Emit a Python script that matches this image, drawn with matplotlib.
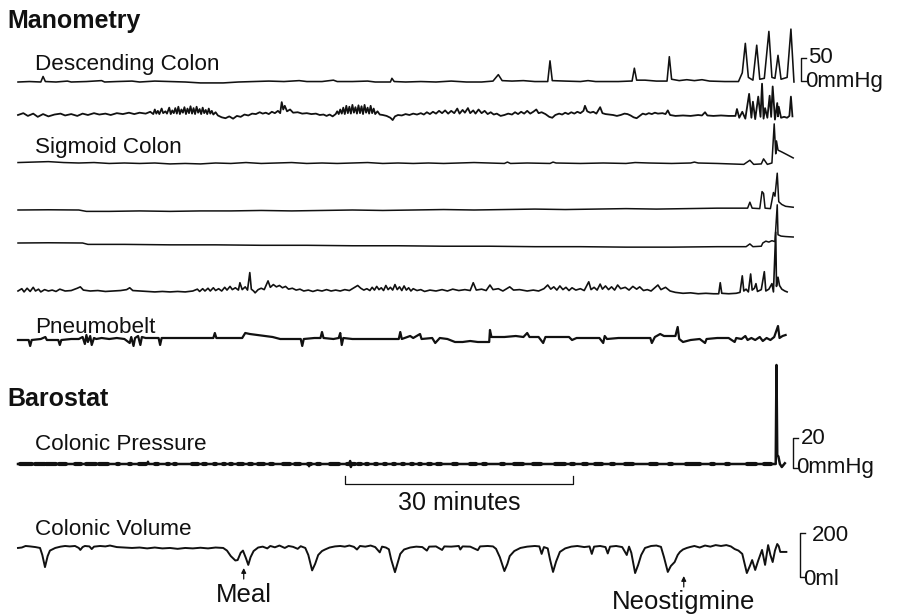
import matplotlib.pyplot as plt
import numpy as np

plt.rcParams["font.family"] = ["Liberation Sans", "DejaVu Sans"]

# All traces: (minutes from start of recording, value in the trace's own unit)
# manometry channels in mmHg
DESC_1 = [(0, 0), (1.5, 1), (3.0, 0), (3.3, 12), (3.6, 1), (5, 0), (6.5, 2), (7, 0), (9, 1),
          (11, 3), (11.4, 0), (13, 1), (15, 2), (16, 0), (18, 2), (20, 1), (22, 0), (24, -2),
          (27, -2), (29, 0), (31, 1), (33, 2), (35, 1), (37, 3), (38, 1), (40, 1), (41.5, 4),
          (42, 1), (44, 1), (46, 2), (47, 0), (49, 0), (49.2, 8), (49.5, 1), (51, 0), (53, 1),
          (55, 0), (57, 2), (59, 0), (61, 0), (62.5, 2), (63.2, 16), (63.7, 3), (65, 2),
          (66.5, 3), (68, 1), (69.7, 1), (70, 46), (70.3, 3), (72, 2), (74, 1), (75, 3), (76, 1),
          (79, 1), (80.5, 2), (80.8, 2), (81.1, 30), (81.4, 4), (82.5, 4), (84, 2), (85.4, 2),
          (85.7, 55), (86.0, 6), (87, 3), (88, 5), (89, 3), (90, 5), (91, 2), (93, 1), (94.8, 1),
          (95.3, 20), (95.7, 84), (96.1, 10), (96.7, 4), (97.2, 80), (97.6, 6), (98.2, 8),
          (98.8, 110), (99.2, 10), (99.6, 8), (100.0, 58), (100.4, 6), (101.2, 10), (101.7, 115),
          (102.1, 0)]

DESC_2 = [(0, 0), (0.7, 4), (1.3, -2), (2.0, 3), (2.6, -4), (3.3, 2), (4.0, -3), (4.8, 1),
          (5.6, 3), (6.2, -1), (7.0, 2), (7.8, -2), (8.5, 3), (9.2, 0), (10.0, 4), (10.7, 1),
          (11.5, 3), (12.2, 0), (13.0, 4), (13.8, 2), (14.6, 5), (15.3, 2), (16.0, 5), (16.8, 3),
          (17.4, 7), (17.8, 2), (18.0, 12), (18.2, 3), (18.4, 9), (18.6, 2), (18.9, 14), (19.1, 4),
          (19.4, 8), (19.6, 3), (19.9, 16), (20.1, 2), (20.3, 10), (20.5, 4), (20.7, 15),
          (20.9, 3), (21.1, 18), (21.3, 2), (21.5, 12), (21.7, 5), (21.9, 17), (22.1, 2),
          (22.3, 14), (22.5, 4), (22.7, 19), (22.9, 3), (23.1, 15), (23.3, 2), (23.5, 18),
          (23.7, 5), (23.9, 13), (24.1, 2), (24.3, 16), (24.5, 4), (24.7, 11), (24.9, 2),
          (25.1, 14), (25.3, 3), (25.5, 9), (25.7, 1), (26.0, 6), (26.3, -1), (26.8, -5),
          (27.3, -7), (27.8, -3), (28.3, -8), (28.8, -2), (29.3, -4), (29.8, 1), (30.3, -1),
          (30.8, 3), (31.3, 2), (31.8, 6), (32.2, 3), (32.6, 5), (33.0, 2), (33.4, 7), (33.8, 4),
          (34.2, 9), (34.5, 4), (34.7, 28), (34.9, 12), (35.1, 20), (35.4, 8), (35.8, 12),
          (36.2, 5), (36.8, 6), (37.4, 3), (38.0, 4), (38.6, 2), (39.2, 3), (39.7, 0), (40.2, 1),
          (40.6, -2), (41.0, 1), (41.4, -3), (41.8, 2), (42.0, 8), (42.2, 2), (42.4, 12),
          (42.6, 3), (42.8, 16), (43.0, 2), (43.2, 20), (43.4, 4), (43.6, 18), (43.8, 3),
          (44.0, 22), (44.2, 5), (44.4, 17), (44.6, 3), (44.8, 21), (45.0, 4), (45.2, 19),
          (45.4, 2), (45.6, 22), (45.8, 5), (46.0, 16), (46.2, 3), (46.4, 20), (46.6, 4),
          (46.8, 14), (47.0, 2), (47.3, 8), (47.6, 1), (48.0, 0), (48.5, -2), (49.0, -6),
          (49.3, -11), (49.6, -3), (50.0, 0), (50.5, -1), (51.0, 2), (51.5, 0), (52.0, 3),
          (52.5, 1), (53.0, 4), (53.4, 1), (53.8, 6), (54.2, 2), (54.6, 7), (55.0, 3), (55.4, 9),
          (55.8, 4), (56.2, 10), (56.6, 3), (57.0, 9), (57.4, 4), (57.8, 14), (58.1, 3),
          (58.5, 11), (58.8, 5), (59.2, 15), (59.5, 4), (59.9, 10), (60.2, 3), (60.6, 12),
          (61.0, 4), (61.4, 9), (61.8, 2), (62.2, 6), (62.6, 1), (63.0, 3), (63.5, -2), (64.0, 0),
          (64.5, 3), (65.0, 1), (65.4, 6), (65.8, 2), (66.2, 7), (66.6, 3), (67.0, 9), (67.4, 3),
          (67.8, 7), (68.2, 12), (68.5, 4), (68.9, 6), (69.4, 2), (69.9, -4), (70.3, -6),
          (70.7, 0), (71.2, 3), (71.6, 1), (72.0, 5), (72.4, 2), (72.8, 6), (73.2, 3), (73.6, 7),
          (74.0, 4), (74.4, 9), (74.6, 20), (74.9, 8), (75.3, 5), (75.7, 7), (76.1, 3),
          (76.6, 17), (76.9, 4), (77.3, 2), (77.8, 1), (78.3, 0), (78.8, -2), (79.3, 0),
          (79.8, 3), (80.2, 2), (80.6, -1), (81.0, -5), (81.4, -7), (81.8, -2), (82.2, 3),
          (82.6, 1), (83.0, 4), (83.4, 2), (83.8, 5), (84.2, 3), (84.8, 4), (85.2, 2), (85.5, 10),
          (85.8, 0), (86.5, -2), (87.5, -1), (88.5, -2), (89.5, 0), (90.0, -1), (90.4, 6),
          (90.7, -1), (91.5, -2), (92.5, -1), (93.5, -2), (94.4, -2), (94.6, 13), (94.9, -6),
          (95.3, 7), (95.7, -8), (96.2, 46), (96.5, -6), (96.7, 29), (97.0, -9), (97.4, 40),
          (97.7, -4), (97.9, 68), (98.1, -8), (98.3, 15), (98.6, -6), (98.9, 42), (99.1, -4),
          (99.3, 62), (99.6, -10), (99.9, 26), (100.0, -3), (100.1, 18), (100.4, -6), (100.8, -4),
          (101.2, -6), (101.5, -2), (101.7, 40), (101.9, -3)]

SIG_1 = [(0, 1), (2, 2), (4, 3), (6, 1), (8, 0), (10, 1), (12, -1), (14, 0), (16, -1), (18, 0),
         (20, -2), (22, -1), (24, -2), (26, 0), (28, -1), (30, 1), (32, -1), (34, 0), (36, 1),
         (38, -1), (40, 0), (42, -1), (44, 0), (46, 1), (48, -1), (50, 0), (52, -1), (54, 0),
         (56, -1), (58, 0), (60, 1), (62, 0), (64, -1), (64.4, 2), (64.8, -1), (67, 0),
         (70, -1), (70.4, 2), (70.8, 0), (74, -1), (77, 0), (80, -1), (81.2, 1), (83, 0),
         (86, -1), (88.5, 0), (89, 2), (89.5, 0), (92, -1), (95.5, -3), (96.3, 6), (96.8, -3),
         (97.8, -2), (98.1, 9), (98.6, -3), (99.2, 0), (99.5, 85), (99.7, 20), (99.8, 48),
         (100.0, 28), (100.5, 24), (101.2, 18), (102.0, 11)]

SIG_2 = [(0, 0), (4, 0.5), (8, 0), (9, -3), (12, -3), (16, -2), (20, -3), (24, -2), (28, -2),
         (32, -1), (36, -2), (40, -1), (44, 0), (48, -1), (52, 0), (56, 1), (60, 0), (64, 1),
         (68, 2), (72, 1), (76, 2), (80, 3), (84, 2), (88, 3), (92, 4), (96, 4), (96.3, 17),
         (96.6, 4), (97.6, 3), (97.9, 40), (98.1, 36), (98.3, 4), (99, 3), (99.4, 38),
         (99.6, 30), (99.9, 80), (100.1, 18), (100.5, 12), (101, 8), (102, 6)]

SIG_3 = [(0, 0), (4, 0.5), (8.5, 0), (9.2, -3), (14, -3), (20, -4), (26, -4), (32, -5),
         (38, -5), (44, -6), (50, -6), (56, -7), (62, -7), (68, -8), (74, -8), (80, -9),
         (86, -9), (92, -8), (95.8, -8), (96.3, -2), (96.7, -8), (97.8, -7), (98.0, 0),
         (98.4, 4), (98.8, 2), (99.2, 5), (99.6, 3), (99.9, 83), (100.0, 18), (100.4, 15),
         (101, 14), (102, 13)]

SIG_4 = [(0, 0), (0.5, 5), (0.8, -2), (1.2, 6), (1.6, -1), (2.0, 8), (2.3, 0), (2.7, 4),
         (3.0, -2), (3.5, 3), (4.0, 0), (4.5, 2), (5.0, -1), (5.5, 4), (6.2, 0), (7.0, 1),
         (7.8, 6), (8.2, 9), (8.6, 2), (9.5, 0), (10.5, 1), (11.5, -1), (12.5, 0), (13.5, 1),
         (14.3, 3), (14.7, 7), (15.1, 1), (16, 0), (17, -1), (18, -2), (19, -1), (20, -2),
         (21, -1), (22, -2), (23, 0), (23.6, 4), (23.9, -1), (24.3, 5), (24.6, 0), (25.0, 6),
         (25.3, 0), (25.7, 7), (26.0, 1), (26.4, 5), (26.8, 0), (27.2, 8), (27.5, 2), (27.9, 10),
         (28.2, 3), (28.6, 7), (29.0, 2), (29.2, 18), (29.5, 3), (29.9, 9), (30.2, 2), (30.5, 40),
         (30.7, 4), (31.0, 0), (31.2, -4), (31.6, 3), (32.0, 6), (32.4, 3), (32.9, 22),
         (33.2, 8), (33.6, 14), (34.0, 9), (34.4, 12), (34.8, 7), (35.2, 10), (35.6, 4),
         (36.1, 6), (36.6, 2), (37.1, 4), (37.6, 0), (38.2, 2), (38.8, -1), (39.4, 2), (40, 0),
         (40.6, 3), (41.2, 0), (41.8, 2), (42.4, 0), (43, 3), (43.6, 1), (44.3, 8), (44.7, 12),
         (45.1, 6), (45.5, 2), (45.9, 5), (46.3, 1), (46.6, 8), (46.9, 2), (47.2, 10), (47.5, 3),
         (47.8, 7), (48.1, 1), (48.4, 12), (48.7, 3), (49.0, 8), (49.3, 2), (49.6, 14),
         (49.9, 3), (50.2, 9), (50.5, 1), (50.8, 11), (51.1, 2), (51.4, 7), (51.7, 0), (52.0, 5),
         (52.5, 1), (53.0, 3), (53.5, -1), (54.2, 2), (55.0, 0), (55.8, 3), (56.5, 0), (57.2, 4),
         (58, 1), (58.8, 3), (59.5, 1), (59.9, 18), (60.3, 2), (61, 4), (61.6, 1), (62.1, 13),
         (62.5, 3), (63.2, 5), (63.8, 0), (64.7, 9), (65.2, 2), (66, 3), (67, 0), (67.8, 2),
         (68.5, 0), (69.2, 5), (69.7, 13), (70.1, 4), (70.5, 9), (70.9, 2), (71.3, 11),
         (71.7, 3), (72.1, 8), (72.5, 1), (72.9, 7), (73.4, 2), (74.0, 5), (74.5, 1), (75.1, 20),
         (75.4, 3), (75.8, 8), (76.2, 2), (76.6, 15), (76.9, 4), (77.3, 11), (77.7, 3),
         (78.1, 9), (78.5, 2), (78.9, 13), (79.3, 5), (79.9, 8), (80.4, 2), (80.9, 10),
         (81.4, 4), (81.8, 9), (82.3, 1), (82.8, 3), (83.3, 0), (84.2, 13), (84.6, 3), (85.2, 8),
         (85.8, 0), (86.5, -3), (87.5, -5), (88.5, -4), (89.5, -6), (90.5, -5), (91.5, -6),
         (92.2, -6), (92.4, 18), (92.6, -5), (93.5, -6), (94.5, -5), (95.0, -3), (95.3, 33),
         (95.5, 0), (95.8, 4), (96.1, -2), (96.4, 37), (96.6, 2), (96.9, 6), (97.1, 16),
         (97.3, -1), (97.8, 3), (98.2, 42), (98.4, 0), (98.8, 4), (99.2, 16), (99.4, -2),
         (99.7, 128), (99.8, 10), (100.0, 30), (100.2, 12), (100.5, 4), (100.9, 0), (101.2, -2)]

# respiration belt, arbitrary units
PNEUMOBELT = [(0, 0), (1.4, 0), (1.6, -6), (1.8, 0), (3.0, 1), (3.6, 3), (3.8, 0), (5.3, 0),
              (5.5, -5), (5.7, 0), (7.0, 1), (8.0, 1), (8.5, 3), (8.8, -4), (9.0, 5), (9.2, -2),
              (9.5, 4), (9.7, -5), (10.0, 2), (10.3, 1), (11, 2), (12, 1), (13, 2), (14, 1),
              (14.7, -3), (14.9, 3), (15.2, -6), (15.4, 2), (15.8, 4), (16.1, -5), (16.3, 3),
              (16.8, 2), (17.5, 2), (18.5, 2), (18.7, -5), (18.9, 2), (20, 2), (22, 2), (24, 2),
              (25.7, 2), (25.9, 7), (26.1, 2), (28, 2), (29.5, 2), (29.9, 7), (30.5, 6),
              (31.5, 5), (32.5, 4), (33.5, 3), (34.5, 1), (36, 1), (37.2, 1), (37.4, -6),
              (37.6, 1), (39, 2), (39.8, 2), (40, 8), (40.2, 2), (41.5, 1), (42.2, 2), (42.4, 7),
              (42.6, -5), (42.8, 2), (44, 1), (46, 1), (48, 1), (50.1, 1), (50.3, 8), (50.5, 1),
              (51.6, 4), (52, 2), (52.9, 6), (53.1, 1), (54.5, 2), (54.9, -3), (55.5, 2),
              (56.5, 1), (57.5, -2), (58.5, -2), (59.5, -1), (60.5, -2), (61.5, -2), (62.0, -2),
              (62.1, 10), (62.3, 3), (64, 3), (65.5, 4), (66.5, 3), (67, 7), (67.3, 3),
              (68.5, 3), (69.1, -3), (69.4, 3), (71, 3), (72.5, 3), (72.9, 0), (73.5, 2),
              (75, 2), (76.5, 2), (77.0, -3), (77.2, 4), (77.5, 1), (79, 2), (81, 2), (83.2, 2),
              (83.4, -3), (83.8, 3), (84.5, 6), (85, 4), (86.5, 4), (86.8, 13), (87.0, 1),
              (87.5, -2), (88.5, 0), (89.7, 1), (90.4, -3), (90.6, 1), (92, 2), (93.5, 2),
              (94.3, -2), (94.5, 2), (95.2, 1), (95.7, 4), (96.0, 0), (96.5, 2), (97.0, 0),
              (97.6, 3), (98.0, -1), (98.5, 2), (99.0, 0), (99.5, 3), (100.0, 14), (100.2, 2),
              (100.6, 4), (101, 5)]

# barostat pressure (mmHg) and the bursts of small oscillation on it (centre, duration)
COLONIC_PRESSURE = [(0, 0), (17.0, 0), (17.1, 1.5), (17.2, 0), (38.2, 0), (38.3, -1.5),
                    (38.4, 0), (43.6, 0), (43.7, 2), (43.8, -2), (43.9, 0), (99.7, 0),
                    (99.8, 66), (99.9, 6), (100.05, 5), (100.25, 0), (100.5, -2), (100.9, 0.5)]
PRESSURE_BURSTS = [(1.1, 1.6), (2.9, 1.2), (4.3, 1.3), (5.9, 0.9), (7.9, 0.7), (9.6, 1.4),
                   (11.3, 1.2), (13.2, 0.3), (14.7, 0.3), (16.4, 0.9), (18.2, 0.4), (19.7, 0.3),
                   (20.7, 0.3), (23.3, 0.8), (24.6, 0.4), (25.9, 0.3), (27.1, 0.3), (28.0, 0.3),
                   (29.3, 0.6), (30.6, 0.5), (32.0, 0.8), (33.4, 0.4), (35.3, 0.9), (36.8, 0.6),
                   (38.4, 0.4), (39.6, 0.4), (41.7, 1.2), (43.8, 1.1), (44.9, 0.4), (45.9, 0.3),
                   (47.1, 0.3), (48.3, 0.3), (49.5, 0.3), (50.7, 0.3), (51.8, 0.3), (52.9, 0.3),
                   (54.2, 0.4), (55.4, 0.6), (57.5, 0.6), (59.9, 0.8), (61.4, 0.4), (63.8, 0.4),
                   (65.9, 1.2), (68.3, 1.0), (71.3, 1.3), (73.0, 0.4), (74.6, 0.5), (76.4, 0.9),
                   (78.2, 0.4), (80.4, 1.1), (83.6, 1.0), (85.8, 0.4), (88.8, 1.8), (91.4, 0.4),
                   (93.3, 0.4), (96.5, 1.1), (98.6, 1.0)]

# barostat volume (ml)
COLONIC_VOLUME = [(0, 132), (0.5, 134), (1.0, 141), (1.6, 139), (2.3, 136), (2.9, 132),
                  (3.2, 100), (3.55, 45), (3.9, 95), (4.2, 120), (4.9, 132), (5.6, 138),
                  (6.2, 141), (6.8, 139), (7.5, 141), (8.0, 132), (8.2, 123), (8.5, 136),
                  (8.8, 141), (9.4, 139), (9.7, 127), (10.0, 138), (10.8, 141), (11.5, 139),
                  (12.1, 143), (13.0, 136), (14.0, 134), (15.0, 132), (16.0, 134), (17.0, 130),
                  (18.0, 134), (19.0, 130), (20.0, 132), (21.0, 128), (22.0, 132), (23.0, 130),
                  (24.0, 133), (25.0, 130), (26.0, 134), (27.0, 132), (27.5, 120), (28.0, 95),
                  (28.6, 75), (28.9, 77), (29.3, 110), (29.6, 120), (30.0, 85), (30.3, 55),
                  (30.6, 90), (31.0, 118), (31.6, 134), (32.2, 138), (32.8, 130), (33.2, 141),
                  (33.8, 135), (34.4, 143), (35.1, 132), (35.6, 141), (36.2, 137), (36.8, 128),
                  (37.2, 140), (37.8, 132), (38.2, 100), (38.7, 30), (39.1, 60), (39.5, 100),
                  (40.0, 118), (40.4, 125), (41.0, 134), (41.7, 139), (42.4, 141), (43.0, 138),
                  (43.6, 143), (44.2, 137), (44.6, 125), (45.0, 141), (45.7, 138), (46.4, 143),
                  (47.0, 136), (47.4, 120), (47.6, 112), (47.9, 138), (48.4, 134), (48.8, 126),
                  (49.1, 80), (49.6, 22), (50.0, 70), (50.3, 105), (50.8, 125), (51.6, 134),
                  (52.4, 138), (53.2, 136), (53.8, 120), (54.1, 138), (55.0, 139), (55.8, 123),
                  (56.1, 139), (57.0, 138), (58.0, 141), (58.2, 125), (58.5, 139), (59.5, 138),
                  (60.5, 122), (60.8, 139), (61.8, 141), (62.5, 139), (62.9, 128), (63.4, 90),
                  (64.0, 27), (64.4, 60), (64.7, 95), (65.3, 118), (66.1, 132), (67.0, 138),
                  (68.0, 141), (68.6, 139), (68.9, 105), (69.2, 136), (69.7, 130), (70.0, 80),
                  (70.4, 23), (70.8, 70), (71.3, 114), (72.0, 130), (72.8, 138), (73.6, 141),
                  (74.5, 136), (75.2, 139), (75.5, 105), (75.8, 138), (76.6, 141), (77.3, 136),
                  (77.6, 107), (77.9, 138), (78.7, 141), (79.5, 136), (80.1, 100), (80.4, 138),
                  (80.7, 110), (81.2, 18), (81.6, 55), (82.0, 100), (82.5, 132), (83.3, 141),
                  (84.0, 143), (84.6, 137), (85.0, 90), (85.5, 23), (85.9, 50), (86.4, 68),
                  (86.8, 100), (87.1, 114), (87.5, 125), (88.0, 132), (88.4, 136), (89.0, 141),
                  (89.7, 134), (90.4, 143), (91.1, 138), (91.8, 145), (92.5, 141), (93.2, 145),
                  (93.8, 139), (94.3, 127), (94.8, 120), (95.3, 105), (95.9, 18), (96.3, 50),
                  (96.6, 77), (97.0, 32), (97.4, 75), (97.9, 123), (98.3, 55), (98.7, 145),
                  (99.0, 100), (99.3, 68), (99.6, 120), (99.9, 150), (100.1, 140), (100.3, 114),
                  (100.6, 114), (101.1, 114)]

MEAL_TIME = 29.7          # min
NEOSTIGMINE_TIME = 87.6   # min
TIME_BAR_START = 43.0     # min
TIME_BAR_LEN = 30         # min

# page layout (figure pixels)
X0 = 18.0
PX_PER_MIN = 7.6
MANO_GAIN = 0.46     # px per mmHg
PRESS_GAIN = 1.5     # px per mmHg
VOL_GAIN = 0.22      # px per ml
BELT_GAIN = 1.0
INK = "#111111"


def tx(t):
    return X0 + np.asarray(t, dtype=float) * PX_PER_MIN


def draw_trace(ax, points, base, gain, lw):
    t = np.array([p[0] for p in points])
    v = np.array([p[1] for p in points])
    ax.plot(tx(t), base - v * gain, color=INK, lw=lw, solid_joinstyle="round")


def scale_bracket(ax, x, y0, height, tick=5, lw=1.0):
    ax.plot([x + tick, x, x, x + tick], [y0 - height, y0 - height, y0, y0],
            color=INK, lw=lw)


fig = plt.figure(figsize=(8.97, 6.15), dpi=100)
ax = fig.add_axes([0, 0, 1, 1])
ax.set_xlim(0, 897)
ax.set_ylim(615, 0)
ax.axis("off")

# manometry
draw_trace(ax, DESC_1, 82, MANO_GAIN, 1.15)
draw_trace(ax, DESC_2, 115, MANO_GAIN, 1.3)
draw_trace(ax, SIG_1, 163, MANO_GAIN, 1.1)
draw_trace(ax, SIG_2, 210, MANO_GAIN, 1.1)
draw_trace(ax, SIG_3, 243, MANO_GAIN, 1.1)
draw_trace(ax, SIG_4, 291, MANO_GAIN, 1.2)
draw_trace(ax, PNEUMOBELT, 340, BELT_GAIN, 1.6)

# barostat
draw_trace(ax, COLONIC_PRESSURE, 464, PRESS_GAIN, 1.8)
for centre, dur in PRESSURE_BURSTS:
    ax.plot(tx([centre - dur / 2, centre + dur / 2]), [464, 464], color=INK, lw=3.0,
            solid_capstyle="round")
draw_trace(ax, COLONIC_VOLUME, 577, VOL_GAIN, 1.4)

# headings and channel labels
ax.text(7, 28, "Manometry", fontsize=18, fontweight="bold", color=INK, va="baseline")
ax.text(7, 406, "Barostat", fontsize=18, fontweight="bold", color=INK, va="baseline")
for label, y in [("Descending Colon", 70), ("Sigmoid Colon", 153), ("Pneumobelt", 333),
                 ("Colonic Pressure", 450), ("Colonic Volume", 535)]:
    ax.text(35, y, label, fontsize=16.2, color=INK, va="baseline")

# amplitude scale bars
scale_bracket(ax, 801, 81, 50 * MANO_GAIN)
ax.text(808, 63, "50", fontsize=16, color=INK, va="baseline")
ax.text(805, 87, "0mmHg", fontsize=16, color=INK, va="baseline")

scale_bracket(ax, 793, 468, 20 * PRESS_GAIN)
ax.text(801, 444, "20", fontsize=16, color=INK, va="baseline")
ax.text(796, 473, "0mmHg", fontsize=16, color=INK, va="baseline")

scale_bracket(ax, 800, 577, 200 * VOL_GAIN)
ax.text(812, 541, "200", fontsize=16, color=INK, va="baseline")
ax.text(803, 585, "0ml", fontsize=16, color=INK, va="baseline")

# time bar
xb0, xb1 = tx(TIME_BAR_START), tx(TIME_BAR_START + TIME_BAR_LEN)
ax.plot([xb0, xb0, xb1, xb1], [476, 484, 484, 476], color=INK, lw=0.9)
ax.text((xb0 + xb1) / 2, 510, f"{TIME_BAR_LEN} minutes", fontsize=18, color=INK,
        ha="center", va="baseline")

# event markers
for t_ev, label, y_tip, y_text in [(MEAL_TIME, "Meal", 568, 602),
                                   (NEOSTIGMINE_TIME, "Neostigmine", 576, 609)]:
    x_ev = float(tx(t_ev))
    ax.annotate("", xy=(x_ev, y_tip), xytext=(x_ev, y_tip + 11),
                arrowprops=dict(arrowstyle="-|>", color=INK, lw=0.9, mutation_scale=7,
                                shrinkA=0, shrinkB=0))
    ax.text(x_ev, y_text, label, fontsize=18.5, color=INK, ha="center", va="baseline")

fig.savefig("out.png", dpi=100)
